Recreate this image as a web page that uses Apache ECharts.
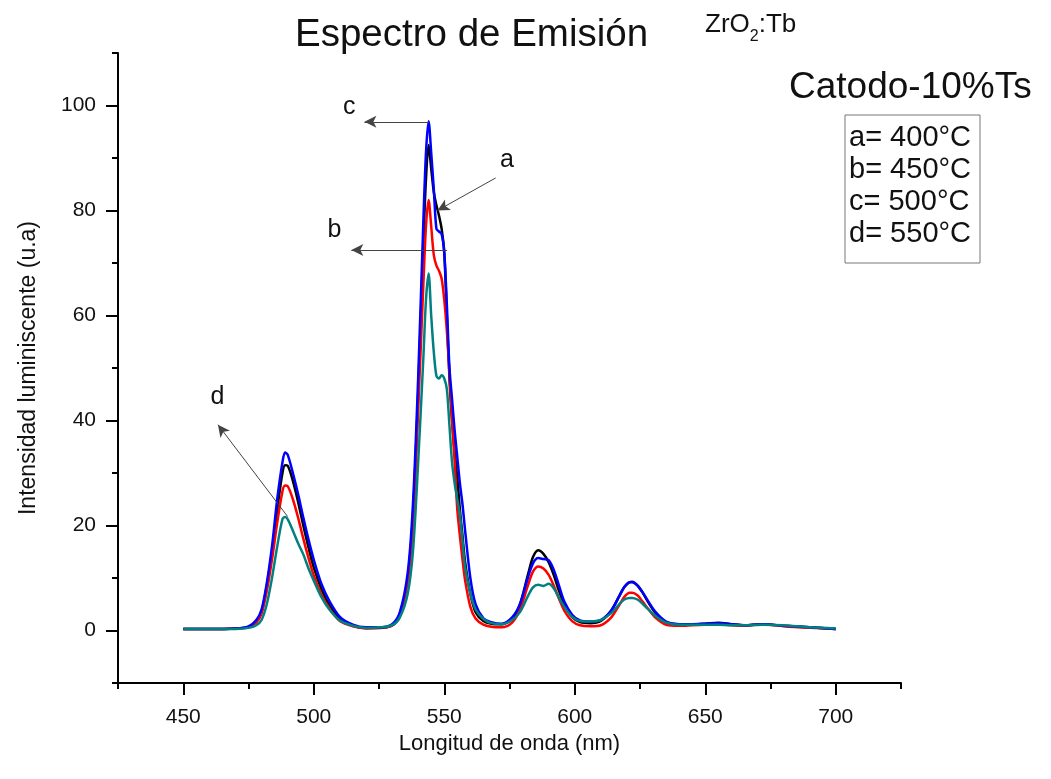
<!DOCTYPE html>
<html>
<head>
<meta charset="utf-8">
<script src="https://cdn.jsdelivr.net/npm/echarts@6/dist/echarts.min.js"></script>
<style>html,body{margin:0;padding:0;background:#fff}#c{width:1051px;height:779px}</style>
</head>
<body>
<div id="c"></div>
<script>
// Wavelength grid (nm)
var wavelengths = [450,460,470,475,478,480,482,484,486,488,489,490,492,494,496,498,500,503,506,510,515,520,525,530,533,536,538,540,542,543,544,545,546,547,548,549,550,551,552,553,554,555,556,557,558,560,562,565,568,572,576,579,582,584,586,588,590,592,594,596,599,602,606,610,614,617,619,621,622,624,626,628,631,635,640,645,650,655,660,665,672,680,690,700];
// a = 400°C (black)
var seriesA = [0.3,0.3,0.4,0.7,1.8,3.6,8.5,15,23,30,31.5,31.4,28.5,24.5,20,15.8,12,7.8,4.8,2.2,0.9,0.5,0.5,1.0,3.2,10,22,45,74,86,92.5,88,83.5,81,79,76.5,72,60,48,40,34,29,23,18,13,7,3.5,1.8,1.3,1.2,2.2,5,10.5,14,15.3,14.6,13,10.5,7.5,5,2.6,1.6,1.4,1.8,3.8,6.5,8.3,9.2,9.3,8.6,7.2,5.5,3.3,1.6,1.2,1.2,1.3,1.5,1.2,1.0,1.2,0.9,0.6,0.3];
// b = 450°C (red)
var seriesB = [0.3,0.3,0.4,0.6,1.5,3.2,7.5,13.5,20.5,26.5,27.6,27.5,25,21.5,17.5,13.8,10.5,6.8,4.2,1.8,0.8,0.4,0.5,0.9,3.0,9.5,20,42,66,77,82,77,71.5,69.5,68.5,67,63,57,49,40,32,23,18,13.5,9.5,4.5,2.3,1.1,0.7,0.6,1.5,4,8.5,11.2,12.2,11.8,10.6,8.5,6,3.8,1.8,1.0,0.8,1.0,2.5,4.8,6.4,7.2,7.2,6.7,5.5,4.2,2.4,1.1,0.9,1.0,1.1,1.2,1.0,0.9,1.2,0.8,0.5,0.3];
// c = 500°C (blue)
var seriesC = [0.3,0.3,0.4,0.8,2.0,4.0,9,16,25,32,33.9,33.5,30,26,21.5,17.3,13.5,8.8,5.6,2.6,1.1,0.6,0.6,1.2,3.5,11,24,48,78,91,97,91,84,76.5,76,75.5,72,62,50,44,38,33,28,24,19,10,5,2.3,1.6,1.3,2.5,5,10,12.8,13.8,13.6,13.4,11.5,8.5,5.5,3,1.9,1.7,2.0,3.8,6.5,8.3,9.2,9.2,8.6,7.3,5.7,3.5,1.7,1.2,1.2,1.3,1.4,1.2,1.0,1.2,0.9,0.6,0.3];
// d = 550°C (teal)
var seriesD = [0.3,0.3,0.3,0.5,1.0,2.0,5,10,16,21.2,21.6,21.2,19,16.6,14.5,11.8,9.5,6.3,4.0,1.9,0.9,0.5,0.6,1.0,2.5,7,15,32,52,63,68,60,53,48.5,48,48.6,48,46,39,32,28,25,22,17,12,7,4,2.2,1.4,1.2,2.0,3.5,6.5,8.2,8.7,8.5,8.9,8.0,6.2,4.5,2.6,1.8,1.7,2.0,3.3,5.0,5.9,6.2,6.2,5.9,5.1,4.1,2.7,1.5,1.1,1.1,1.1,1.1,1.0,1.0,1.1,1.0,0.6,0.4];

var xMajorTicks = [450,500,550,600,650,700];
var xMinorTicks = [425,475,525,575,625,675,725];
var yMajorTicks = [0,20,40,60,80,100];
var yMinorTicks = [-10,10,30,50,70,90,110];

var legendLines = ['a= 400°C','b= 450°C','c= 500°C','d= 550°C'];

// Annotation arrows in data coordinates: [from, to]
var arrows = [
  [[544.2,96.9],[519.4,96.9]],
  [[569.7,86.2],[547.4,80.0]],
  [[551.1,72.5],[514.4,72.5]],
  [[490.0,21.7],[463.3,39.2]]
];
var arrowLabels = [
  {name:'c', coord:[513.6,99.6]},
  {name:'a', coord:[574.0,89.6]},
  {name:'b', coord:[507.9,76.3]},
  {name:'d', coord:[463.1,44.5]}
];

function pairs(ys){ return wavelengths.map(function(x,i){ return [x, ys[i]]; }); }

var FONT = '"Liberation Sans", Arial, sans-serif';
var chart = echarts.init(document.getElementById('c'), null, {renderer:'canvas'});

function xAxisBase(){
  return {type:'value', min:425, max:725, gridIndex:0, position:'bottom', splitLine:{show:false}};
}
function yAxisBase(){
  return {type:'value', min:-10, max:110, gridIndex:0, position:'left', splitLine:{show:false}};
}

var lineSeries = function(name, ys, color){
  return {name:name, type:'line', data:pairs(ys), showSymbol:false, symbol:'none',
    smooth:0.3, lineStyle:{color:color, width:2.5}, itemStyle:{color:color}, z:3};
};

var option = {
  backgroundColor:'#ffffff',
  animation:false,
  title:{text:'Espectro de Emisión', left:290, top:11,
    textStyle:{fontFamily:FONT, fontSize:38.5, fontWeight:'normal', color:'#111',
      textShadowColor:'rgba(200,120,0,0.35)', textShadowOffsetX:-1, textShadowBlur:0}},
  grid:{left:118, top:53, right:150, bottom:96, containLabel:false},
  xAxis:[
    Object.assign(xAxisBase(), {
      name:'Longitud de onda (nm)', nameLocation:'middle', nameGap:47,
      nameTextStyle:{fontFamily:FONT, fontSize:22, color:'#111'},
      axisLine:{show:true, onZero:false, lineStyle:{color:'#000', width:2}},
      axisTick:{show:true, customValues:xMajorTicks, length:12, inside:false, lineStyle:{color:'#000', width:2}},
      axisLabel:{show:true, customValues:xMajorTicks, margin:24, fontFamily:FONT, fontSize:21, color:'#111'}
    }),
    Object.assign(xAxisBase(), {
      axisLine:{show:false, onZero:false},
      axisTick:{show:true, customValues:xMinorTicks, length:6, inside:false, lineStyle:{color:'#000', width:2}},
      axisLabel:{show:false}
    })
  ],
  yAxis:[
    Object.assign(yAxisBase(), {
      name:'Intensidad luminiscente (u.a)', nameLocation:'middle', nameGap:78, nameRotate:90,
      nameTextStyle:{fontFamily:FONT, fontSize:23, color:'#111'},
      axisLine:{show:true, onZero:false, lineStyle:{color:'#000', width:2}},
      axisTick:{show:true, customValues:yMajorTicks, length:12, inside:false, lineStyle:{color:'#000', width:2}},
      axisLabel:{show:true, customValues:yMajorTicks, margin:22, fontFamily:FONT, fontSize:21, color:'#111'}
    }),
    Object.assign(yAxisBase(), {
      axisLine:{show:false, onZero:false},
      axisTick:{show:true, customValues:yMinorTicks, length:6, inside:false, lineStyle:{color:'#000', width:2}},
      axisLabel:{show:false}
    })
  ],
  series:[
    lineSeries('a', seriesA, '#000000'),
    lineSeries('b', seriesB, '#ff0000'),
    lineSeries('c', seriesC, '#0000ff'),
    lineSeries('d', seriesD, '#008080'),
    {
      name:'annotations', type:'line', data:[], symbol:'none', z:5,
      markLine:{
        silent:true, symbol:['none','arrow'], symbolSize:[9,12], precision:2,
        lineStyle:{color:'#444', width:1, type:'solid'}, label:{show:false},
        emphasis:{disabled:true},
        data: arrows.map(function(a){ return [{coord:a[0]},{coord:a[1]}]; })
      },
      markPoint:{
        silent:true, symbol:'circle', symbolSize:0,
        label:{show:true, position:'inside', formatter:'{b}', fontFamily:FONT, fontSize:25, color:'#111'},
        data: arrowLabels.map(function(l){ return {name:l.name, coord:l.coord}; })
      }
    }
  ],
  graphic:[
    {type:'text', left:705, top:12, style:{
      text:'{n|ZrO}{s|2}{n|:Tb}', font:'26px '+FONT, fill:'#111',
      rich:{n:{fontFamily:FONT, fontSize:26, fill:'#111', verticalAlign:'top', lineHeight:32},
            s:{fontFamily:FONT, fontSize:16, fill:'#111', verticalAlign:'top', padding:[17,0,0,0], lineHeight:32}}
    }},
    {type:'text', left:789, top:69, style:{text:'Catodo-10%Ts', font:'37px '+FONT, fill:'#111'}},
    {type:'rect', shape:{x:845, y:115, width:135, height:148}, style:{fill:'none', stroke:'#777', lineWidth:1}},
    {type:'text', left:849, top:122, style:{text:legendLines.join('\n'), font:'29px '+FONT, fill:'#111', lineHeight:32}}
  ]
};
chart.setOption(option);
</script>
</body>
</html>
